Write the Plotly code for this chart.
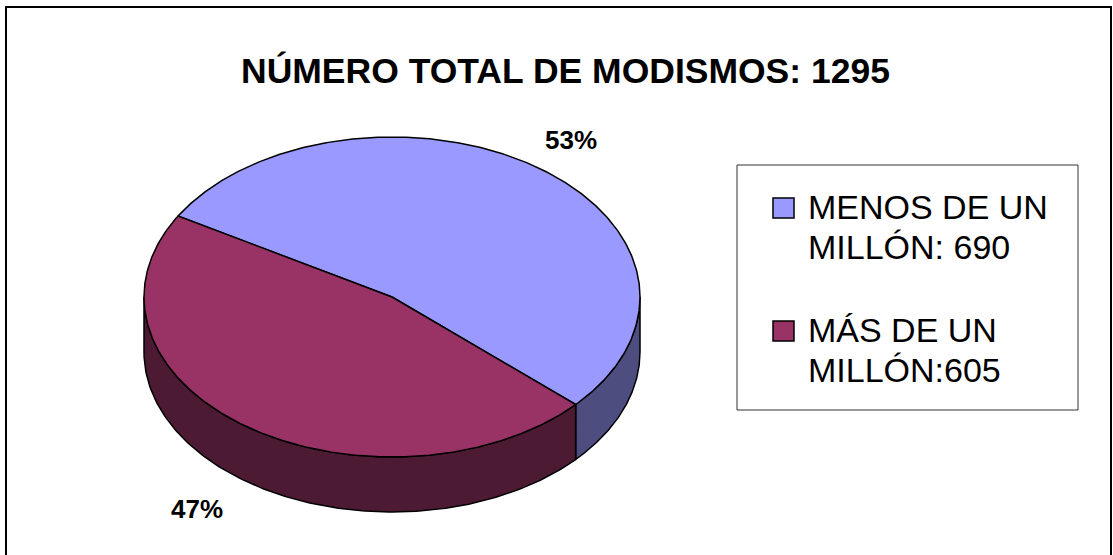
import numpy as np
import plotly.graph_objects as go

# ---- data ----
categories = ["MENOS DE UN MILLÓN", "MÁS DE UN MILLÓN"]
values = [690, 605]
legend_labels = ["MENOS DE UN<br>MILLÓN: 690", "MÁS DE UN<br>MILLÓN:605"]
title_text = "NÚMERO TOTAL DE MODISMOS: 1295"

# ---- styles ----
top_colors = ["#9999FF", "#993366"]
side_colors = ["#4D4D80", "#4C1A33"]
FONT = "Liberation Sans, Arial, sans-serif"

# ---- geometry of the 3D pie (pixel space) ----
W, H = 1113, 555
cx, cy = 392, 297
rx, ry = 248, 160
depth = 55
start_angle = 149.6  # degrees, counter-clockwise from 3 o'clock; slices go clockwise

total = sum(values)
fracs = [v / total for v in values]

def pt(t_deg, dy=0.0):
    t = np.radians(t_deg)
    return cx + rx * np.cos(t), cy - ry * np.sin(t) + dy

# slice angle ranges (clockwise)
ranges = []
a = start_angle
for f in fracs:
    b = a - f * 360.0
    ranges.append((a, b))
    a = b

fig = go.Figure()

# side walls (front half: t in [-180, 0])
def visible_side(a, b):
    lo, hi = min(a, b), max(a, b)
    segs = []
    for shift in (0, -360, 360):
        s_lo, s_hi = lo + shift, hi + shift
        l = max(s_lo, -180.0)
        h = min(s_hi, 0.0)
        if h > l:
            segs.append((l, h))
    return segs

for i, (a, b) in enumerate(ranges):
    for (l, h) in visible_side(a, b):
        ts = np.linspace(l, h, 200)
        xs_top, ys_top = pt(ts)
        xs_bot, ys_bot = pt(ts[::-1], depth)
        xs = np.concatenate([xs_top, xs_bot, xs_top[:1]])
        ys = np.concatenate([ys_top, ys_bot, ys_top[:1]])
        fig.add_trace(go.Scatter(
            x=xs, y=ys, mode="lines", fill="toself",
            fillcolor=side_colors[i],
            line=dict(color="black", width=1.5),
            hoverinfo="skip", showlegend=False))

# top faces
for i, (a, b) in enumerate(ranges):
    ts = np.linspace(a, b, 400)
    xa, ya = pt(ts)
    xs = np.concatenate([[cx], xa, [cx]])
    ys = np.concatenate([[cy], ya, [cy]])
    fig.add_trace(go.Scatter(
        x=xs, y=ys, mode="lines", fill="toself",
        fillcolor=top_colors[i],
        line=dict(color="black", width=1.5),
        name=categories[i],
        text=f"{categories[i]}: {values[i]}",
        hoverinfo="text", showlegend=False))

# percentage labels (placed outside the slice, at its mid angle)
annotations = []
label_k = [(1.22, 1.22), (1.33, 1.22)]
for i, (a, b) in enumerate(ranges):
    mid = (a + b) / 2.0
    kx, ky = label_k[i]
    t = np.radians(mid)
    lx = cx + kx * rx * np.cos(t)
    ly = cy - ky * ry * np.sin(t)
    if np.sin(t) < 0:
        ly += depth
    pct = round(values[i] / total * 100)
    annotations.append(dict(
        x=lx, y=ly, xref="x", yref="y", text=f"<b>{pct}%</b>",
        showarrow=False, font=dict(family=FONT, size=26, color="black"),
        xanchor="center", yanchor="middle"))

# title
annotations.append(dict(
    x=565, y=71, xref="x", yref="y", text=f"<b>{title_text}</b>",
    showarrow=False, font=dict(family=FONT, size=35.5, color="black"),
    xanchor="center", yanchor="middle"))

# legend (manual)
shapes = []
shapes.append(dict(type="rect", xref="x", yref="y", x0=737, y0=165, x1=1078, y1=410,
                   line=dict(color="#333333", width=1), fillcolor="white", layer="below"))
entry_tops = [198, 321]
for i, lab in enumerate(legend_labels):
    y0 = entry_tops[i]
    shapes.append(dict(type="rect", xref="x", yref="y", x0=773, y0=y0, x1=794, y1=y0 + 20,
                       line=dict(color="black", width=1.5), fillcolor=top_colors[i]))
    for j, line in enumerate(lab.split("<br>")):
        annotations.append(dict(
            x=806, y=y0 + 9 + j * 40, xref="x", yref="y", text=line,
            showarrow=False, font=dict(family=FONT, size=34, color="black"),
            xanchor="left", yanchor="middle"))

# outer frame
shapes.append(dict(type="rect", xref="x", yref="y", x0=6, y0=7, x1=1111, y1=600,
                   line=dict(color="black", width=2), fillcolor="rgba(0,0,0,0)", layer="below"))

fig.update_layout(
    width=W, height=H,
    margin=dict(l=0, r=0, t=0, b=0),
    paper_bgcolor="white", plot_bgcolor="white",
    xaxis=dict(range=[0, W], visible=False, fixedrange=True),
    yaxis=dict(range=[H, 0], visible=False, fixedrange=True),
    shapes=shapes, annotations=annotations,
    showlegend=False,
)

fig.write_html("out.html", config={"displayModeBar": False},
               post_script="document.body.style.margin='0';document.body.style.overflow='hidden';")
